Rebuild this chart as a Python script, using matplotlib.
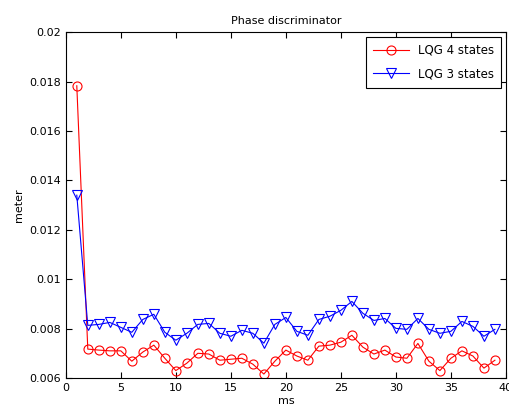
import matplotlib
matplotlib.use('Agg')
import matplotlib.pyplot as plt

# time index in ms
t = list(range(1, 40))

# LQG 4 states
lqg4 = [0.01783, 0.00717, 0.00713, 0.00710, 0.00710, 0.00668, 0.00705, 0.00733,
        0.00680, 0.00630, 0.00660, 0.00700, 0.00697, 0.00672, 0.00676, 0.00680,
        0.00656, 0.00616, 0.00668, 0.00713, 0.00689, 0.00672, 0.00729, 0.00733,
        0.00745, 0.00773, 0.00725, 0.00697, 0.00713, 0.00685, 0.00680, 0.00740,
        0.00668, 0.00630, 0.00680, 0.00710, 0.00689, 0.00640, 0.00672]

# LQG 3 states
lqg3 = [0.01340, 0.00813, 0.00817, 0.00825, 0.00805, 0.00785, 0.00837, 0.00858,
        0.00785, 0.00753, 0.00781, 0.00817, 0.00821, 0.00781, 0.00769, 0.00793,
        0.00781, 0.00741, 0.00817, 0.00845, 0.00789, 0.00773, 0.00837, 0.00850,
        0.00874, 0.00910, 0.00862, 0.00833, 0.00841, 0.00801, 0.00797, 0.00841,
        0.00797, 0.00781, 0.00789, 0.00829, 0.00809, 0.00769, 0.00797]

xticks = list(range(0, 41, 5))
yticks = [0.006, 0.008, 0.01, 0.012, 0.014, 0.016, 0.018, 0.02]
ytick_labels = ['0.006', '0.008', '0.01', '0.012', '0.014', '0.016', '0.018', '0.02']

fig = plt.figure(figsize=(5.1, 4.12), dpi=100)
ax = fig.add_axes([0.129, 0.0825, 0.863, 0.8395])

ax.plot(t, lqg4, color='red', marker='o', markersize=6.5, markerfacecolor='none',
        linewidth=0.8, markeredgewidth=0.8, label='LQG 4 states')
ax.plot(t, lqg3, color='blue', marker='v', markersize=6.5, markerfacecolor='none',
        linewidth=0.8, markeredgewidth=0.8, label='LQG 3 states')

ax.set_xlim(0, 40)
ax.set_ylim(0.006, 0.02)
ax.set_xticks(xticks)
ax.set_yticks(yticks)
ax.set_yticklabels(ytick_labels)
ax.tick_params(direction='in', top=True, right=True, labelsize=8, length=4, width=0.8)
for s in ax.spines.values():
    s.set_linewidth(0.8)

ax.set_title('Phase discriminator', fontsize=8)
ax.set_xlabel('ms', fontsize=8, labelpad=2)
ax.set_ylabel('meter', fontsize=8)

leg = ax.legend(loc='upper right', fontsize=8.5, fancybox=False, framealpha=1,
                edgecolor='black', borderaxespad=0.4, handlelength=3,
                labelspacing=0.9, borderpad=0.6)
leg.get_frame().set_linewidth(0.8)

fig.savefig('out.png', dpi=100)
